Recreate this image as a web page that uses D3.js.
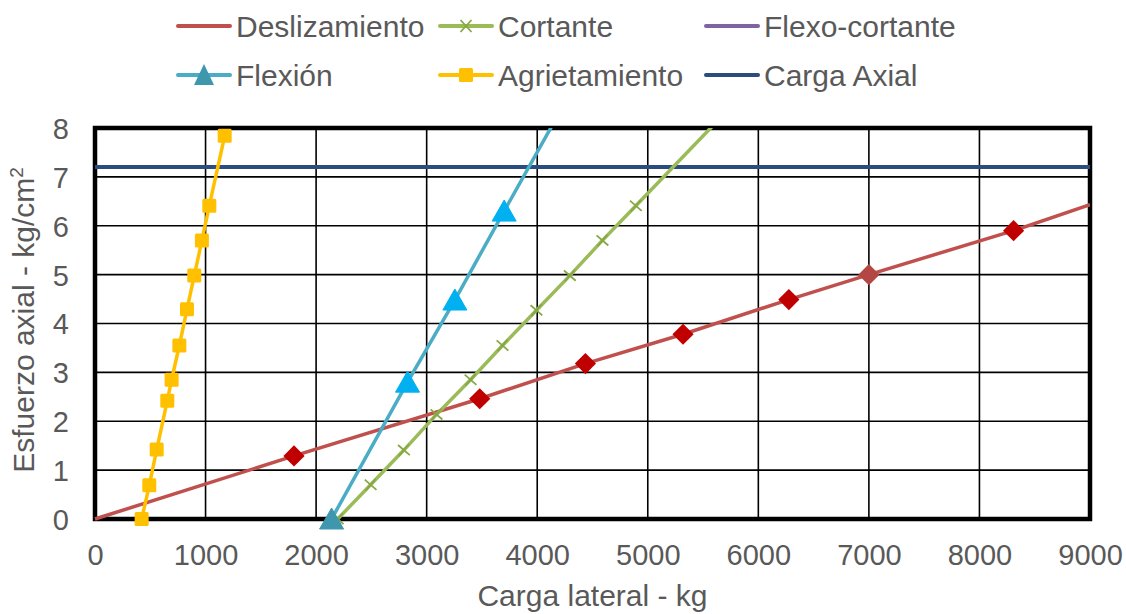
<!DOCTYPE html>
<html>
<head>
<meta charset="utf-8">
<script src="https://cdn.jsdelivr.net/npm/d3@7"></script>
<style>
  html, body { margin: 0; padding: 0; background: #fff; }
  svg { display: block; }
  text { font-family: "Liberation Sans", Arial, sans-serif; fill: #595959; }
</style>
</head>
<body>
<svg id="chart" width="1126" height="614"></svg>
<script>
// ---------- data ----------
const xTicks = [0, 1000, 2000, 3000, 4000, 5000, 6000, 7000, 8000, 9000];
const yTicks = [0, 1, 2, 3, 4, 5, 6, 7, 8];

const deslizamientoX = [0, 1800, 3480, 4436, 5319, 6276, 7000, 8309, 9000];
const deslizamientoY = [0, 1.29, 2.46, 3.18, 3.78, 4.49, 5.00, 5.90, 6.43];

const cortanteX = [2195, 2493, 2794, 3089, 3397, 3686, 3993, 4295, 4590, 4892, 5803];
const cortanteY = [0, 0.70, 1.41, 2.14, 2.85, 3.55, 4.27, 4.98, 5.70, 6.41, 8.55];

const flexoCortanteX = [];
const flexoCortanteY = [];

const flexionX = [2140, 2827, 3255, 3701, 4370];
const flexionY = [0, 2.80, 4.48, 6.30, 9.0];

const agrietamientoX = [422, 491, 558, 654, 693, 763, 832, 898, 967, 1034, 1173];
const agrietamientoY = [0, 0.69, 1.42, 2.42, 2.85, 3.55, 4.29, 4.98, 5.70, 6.41, 7.84];

const cargaAxialX = [0, 9000];
const cargaAxialY = [7.2, 7.2];

const seriesNames = ["Deslizamiento", "Cortante", "Flexo-cortante", "Flexión", "Agrietamiento", "Carga Axial"];

// ---------- layout ----------
const svg = d3.select("#chart");
const L = 95, R = 1090, T = 128, B = 519;
const x = d3.scaleLinear().domain([0, 9000]).range([L, R]);
const y = d3.scaleLinear().domain([0, 8]).range([B, T]);

const zip = (xs, ys) => xs.map((v, i) => ({x: v, y: ys[i], i}));

// clip for lines
svg.append("defs").append("clipPath").attr("id", "plotClip")
  .append("rect").attr("x", L - 4).attr("y", T).attr("width", R - L + 4).attr("height", B - T + 2);

// gridlines
const grid = svg.append("g");
grid.selectAll("line.v").data(xTicks.slice(1, -1)).join("line")
  .attr("x1", d => x(d)).attr("x2", d => x(d)).attr("y1", T).attr("y2", B)
  .attr("stroke", "#000").attr("stroke-width", 1.6);
grid.selectAll("line.h").data(yTicks.slice(1, -1)).join("line")
  .attr("x1", L).attr("x2", R).attr("y1", d => y(d)).attr("y2", d => y(d))
  .attr("stroke", "#000").attr("stroke-width", 1.6);

// frame
svg.append("rect").attr("x", L).attr("y", T).attr("width", R - L).attr("height", B - T)
  .attr("fill", "none").attr("stroke", "#000").attr("stroke-width", 4.5);

// axes tick labels via d3 axes
const xAxis = svg.append("g").attr("transform", `translate(0,${B})`)
  .call(d3.axisBottom(x).tickValues(xTicks).tickFormat(d3.format("d")).tickSize(0).tickPadding(0));
xAxis.select(".domain").remove();
xAxis.selectAll("text").attr("dy", null).attr("y", 46).style("font-size", "29px").attr("fill", "#595959");

const yAxis = svg.append("g").attr("transform", `translate(${L},0)`)
  .call(d3.axisLeft(y).tickValues(yTicks).tickFormat(d3.format("d")).tickSize(0).tickPadding(0));
yAxis.select(".domain").remove();
yAxis.selectAll("text").attr("x", -26).attr("dy", "0.36em").style("font-size", "29px").attr("fill", "#595959");

// axis titles
svg.append("text").attr("x", (L + R) / 2).attr("y", 606).attr("text-anchor", "middle")
  .style("font-size", "30px").text("Carga lateral - kg");
const yt = svg.append("text").attr("transform", `translate(34,${320}) rotate(-90)`)
  .attr("text-anchor", "middle").style("font-size", "30px");
yt.append("tspan").text("Esfuerzo axial - kg/cm");
yt.append("tspan").attr("dy", -11).style("font-size", "19px").text("2");

// ---------- series ----------
const line = d3.line().x(d => x(d.x)).y(d => y(d.y));
const plot = svg.append("g");
const lines = plot.append("g").attr("clip-path", "url(#plotClip)");
const marks = plot.append("g");

function drawLine(data, color, w) {
  lines.append("path").datum(data).attr("d", line)
    .attr("fill", "none").attr("stroke", color).attr("stroke-width", w)
    .attr("stroke-linejoin", "round").attr("stroke-linecap", "butt");
}

const cDesl = "#C0504D", cCort = "#9BBB59", cFlexo = "#8064A2", cFlex = "#4BACC6", cAgr = "#FFC000", cAx = "#2B4C7E";

const desl = zip(deslizamientoX, deslizamientoY);
const cort = zip(cortanteX, cortanteY);
const flex = zip(flexionX, flexionY);
const agr = zip(agrietamientoX, agrietamientoY);
const ax = zip(cargaAxialX, cargaAxialY);
const flexo = zip(flexoCortanteX, flexoCortanteY);

drawLine(ax, cAx, 4);
drawLine(flexo, cFlexo, 3.5);
drawLine(desl, cDesl, 3.5);
drawLine(cort, cCort, 3.5);
drawLine(flex, cFlex, 3.5);
drawLine(agr, cAgr, 3.5);

const inView = d => d.y >= 0 && d.y <= 8 && d.x >= 0 && d.x <= 9000;

// Deslizamiento diamonds (intermediate points)
marks.selectAll("path.dia").data(desl.filter((d, i) => i > 0 && i < desl.length - 1)).join("path")
  .attr("d", d3.symbol(d3.symbolSquare, 225))
  .attr("transform", d => `translate(${x(d.x)},${y(d.y)}) rotate(45)`)
  .attr("fill", d => d.x === 7000 ? "#B44643" : "#C00000");

// Cortante x markers
marks.selectAll("path.cx").data(cort.filter(inView)).join("path")
  .attr("d", "M-5.5,-5.5L5.5,5.5M-5.5,5.5L5.5,-5.5")
  .attr("transform", d => `translate(${x(d.x)},${y(d.y)}) rotate(-4)`)
  .attr("stroke", "#86A844").attr("stroke-width", 1.8).attr("fill", "none");

// Flexión triangles
marks.selectAll("path.tri").data(flex.filter(inView)).join("path")
  .attr("d", "M0,-11L12,10L-12,10Z")
  .attr("transform", d => `translate(${x(d.x)},${y(d.y)})`)
  .attr("fill", (d, i) => i === 0 ? "#3F97AE" : "#00B0F0")
  .attr("stroke", (d, i) => i === 0 ? "#3F97AE" : "#00B0F0").attr("stroke-width", 1).attr("stroke-linejoin", "round");

// Agrietamiento squares
marks.selectAll("rect.sq").data(agr.filter(inView)).join("rect")
  .attr("x", d => x(d.x) - 7).attr("y", d => y(d.y) - 7).attr("width", 14).attr("height", 14)
  .attr("rx", 1.5).attr("fill", cAgr);

// ---------- legend ----------
const legendItems = [
  {name: seriesNames[0], color: cDesl, mk: null, lx: 178, ly: 26},
  {name: seriesNames[1], color: cCort, mk: "x", lx: 440, ly: 26},
  {name: seriesNames[2], color: cFlexo, mk: null, lx: 706, ly: 26},
  {name: seriesNames[3], color: cFlex, mk: "tri", lx: 178, ly: 75},
  {name: seriesNames[4], color: cAgr, mk: "sq", lx: 440, ly: 75},
  {name: seriesNames[5], color: cAx, mk: null, lx: 706, ly: 75}
];
const lg = svg.append("g");
legendItems.forEach(it => {
  const g = lg.append("g").attr("transform", `translate(${it.lx},${it.ly})`);
  g.append("line").attr("x1", 0).attr("x2", 52).attr("y1", 0).attr("y2", 0)
    .attr("stroke", it.color).attr("stroke-width", 4).attr("stroke-linecap", "round");
  const cx = 26;
  if (it.mk === "x") {
    g.append("path").attr("d", `M${cx-5.5},-6L${cx+5.5},6M${cx-5.5},6L${cx+5.5},-6`)
      .attr("stroke", "#86A844").attr("stroke-width", 1.8);
  } else if (it.mk === "tri") {
    g.append("path").attr("d", `M${cx},-11L${cx+10},10L${cx-10},10Z`).attr("fill", "#3F97AE");
  } else if (it.mk === "sq") {
    g.append("rect").attr("x", cx - 7).attr("y", -7).attr("width", 14).attr("height", 14).attr("rx", 1.5).attr("fill", cAgr);
  }
  g.append("text").attr("x", 58).attr("y", 11).style("font-size", "30px").text(it.name);
});
</script>
</body>
</html>
